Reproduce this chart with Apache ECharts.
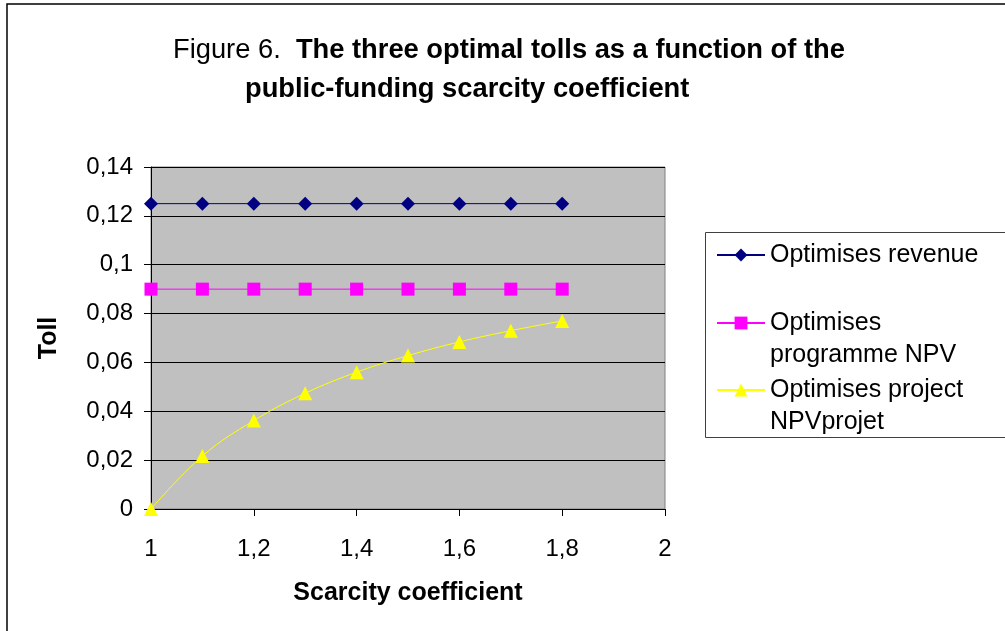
<!DOCTYPE html>
<html>
<head>
<meta charset="utf-8">
<title>Figure 6</title>
<script src="https://cdn.jsdelivr.net/npm/echarts@6/dist/echarts.min.js"></script>
<style>
    html, body { margin: 0; padding: 0; background: #ffffff; }
    #tollChart { width: 1005px; height: 631px; }
</style>
</head>
<body>
<div id="tollChart"></div>
<script>
// scarcity coefficient (x) and the three tolls
var scarcity = [1, 1.1, 1.2, 1.3, 1.4, 1.5, 1.6, 1.7, 1.8];
var tollRevenue = [0.125, 0.125, 0.125, 0.125, 0.125, 0.125, 0.125, 0.125, 0.125];
var tollProgramme = [0.09, 0.09, 0.09, 0.09, 0.09, 0.09, 0.09, 0.09, 0.09];
var tollProject = [0, 0.0217, 0.0362, 0.0474, 0.056, 0.0628, 0.0684, 0.073, 0.077];

var seriesNames = ['Optimises revenue', 'Optimises programme NPV', 'Optimises project NPVprojet'];
var legendLabels = ['Optimises revenue', '\nOptimises\nprogramme NPV', '\nOptimises project\nNPVprojet'];

var fontFamily = 'Arial, "Liberation Sans", sans-serif';

function toPairs(xs, ys) {
    var result = [];
    for (var i = 0; i < xs.length; i++) {
        result.push([xs[i], ys[i]]);
    }
    return result;
}

function commaLabel(value) {
    // excel style decimal comma
    return String(parseFloat(value.toFixed(4))).replace('.', ',');
}

function makeLegend(index, top) {
    return {
        orient: 'vertical',
        left: 716,
        top: top,
        padding: 0,
        itemWidth: 48,
        itemHeight: 16,
        selectedMode: false,
        data: [seriesNames[index]],
        formatter: function () {
            return legendLabels[index];
        },
        textStyle: {
            fontFamily: fontFamily,
            fontSize: 25,
            lineHeight: 32,
            color: '#000000'
        }
    };
}

var chartDom = document.getElementById('tollChart');
var myChart = echarts.init(chartDom);
var option;

option = {
    animation: false,
    backgroundColor: '#ffffff',
    title: [{
        left: 168,
        top: 32,
        text: '{n|Figure 6.  }{b|The three optimal tolls as a function of the}',
        textStyle: {
            rich: {
                n: { fontFamily: fontFamily, fontSize: 27.3, fontWeight: 'normal', color: '#000000' },
                b: { fontFamily: fontFamily, fontSize: 27.3, fontWeight: 'bold', color: '#000000' }
            }
        }
    }, {
        left: 240,
        top: 71,
        text: 'public-funding scarcity coefficient',
        textStyle: { fontFamily: fontFamily, fontSize: 27.3, fontWeight: 'bold', color: '#000000' }
    }],
    graphic: [{
        type: 'rect',
        shape: { x: 7, y: 4, width: 1010, height: 640 },
        style: { fill: 'none', stroke: '#000000', lineWidth: 1.5 },
        silent: true
    }, {
        type: 'rect',
        shape: { x: 705.5, y: 232.5, width: 320, height: 205 },
        style: { fill: 'none', stroke: '#404040', lineWidth: 1 },
        silent: true
    }],
    legend: [makeLegend(0, 239), makeLegend(1, 275), makeLegend(2, 342)],
    grid: {
        left: 151,
        top: 167,
        right: 340,
        bottom: 122,
        show: true,
        backgroundColor: '#c0c0c0',
        borderColor: '#808080',
        borderWidth: 1
    },
    xAxis: {
        type: 'value',
        min: 1,
        max: 2,
        interval: 0.2,
        name: 'Scarcity coefficient',
        nameLocation: 'middle',
        nameGap: 72,
        nameTextStyle: { fontFamily: fontFamily, fontSize: 25, fontWeight: 'bold', color: '#000000' },
        axisLine: { onZero: false, lineStyle: { color: '#000000', width: 1 } },
        axisTick: { show: true, inside: false, length: 7, lineStyle: { color: '#000000' } },
        axisLabel: {
            margin: 28,
            fontFamily: fontFamily,
            fontSize: 24,
            color: '#000000',
            formatter: commaLabel
        },
        splitLine: { show: false }
    },
    yAxis: {
        type: 'value',
        min: 0,
        max: 0.14,
        interval: 0.02,
        name: 'Toll',
        nameLocation: 'middle',
        nameGap: 89,
        nameTextStyle: { fontFamily: fontFamily, fontSize: 25, fontWeight: 'bold', color: '#000000' },
        axisLine: { show: true, lineStyle: { color: '#000000', width: 1 } },
        axisTick: { show: true, inside: false, length: 7, lineStyle: { color: '#000000' } },
        axisLabel: {
            margin: 18,
            fontFamily: fontFamily,
            fontSize: 24,
            color: '#000000',
            formatter: commaLabel
        },
        splitLine: { show: true, lineStyle: { color: '#000000', width: 1 } }
    },
    series: [{
        name: seriesNames[0],
        type: 'line',
        data: toPairs(scarcity, tollRevenue),
        symbol: 'diamond',
        symbolSize: 14,
        color: '#000080',
        lineStyle: { width: 1, color: '#000080' },
        itemStyle: { color: '#000080' }
    }, {
        name: seriesNames[1],
        type: 'line',
        data: toPairs(scarcity, tollProgramme),
        symbol: 'rect',
        symbolSize: 13,
        color: '#ff00ff',
        lineStyle: { width: 1, color: '#ff00ff' },
        itemStyle: { color: '#ff00ff' }
    }, {
        name: seriesNames[2],
        type: 'line',
        data: toPairs(scarcity, tollProject),
        symbol: 'triangle',
        symbolSize: 14,
        smooth: 0.4,
        color: '#ffff00',
        lineStyle: { width: 1, color: '#ffff00' },
        itemStyle: { color: '#ffff00' }
    }]
};

myChart.setOption(option);

window.addEventListener('resize', function () {
    setTimeout(function () {
        myChart.resize();
    }, 250);
});
</script>
</body>
</html>
